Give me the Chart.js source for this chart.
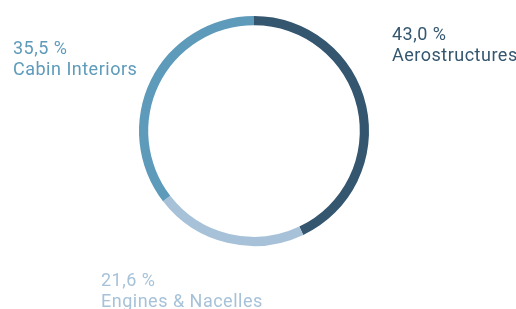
<!DOCTYPE html>
<html>
<head>
<meta charset="utf-8">
<script src="https://cdn.jsdelivr.net/npm/chart.js@4"></script>
<style>
  html, body { margin: 0; padding: 0; background: #fff; }
  #wrap { width: 516px; height: 309px; position: relative; }
</style>
</head>
<body>
<div id="wrap"><canvas id="chart"></canvas></div>
<script>
// Segment data
var labels = ['Aerostructures', 'Engines & Nacelles', 'Cabin Interiors'];
var values = [43.0, 21.6, 35.5];
var valueLabels = ['43,0 %', '21,6 %', '35,5 %'];
var colors = ['#34566f', '#a7c2d8', '#5e9aba'];

// Where each label block sits (left x, baseline of first line)
var labelPos = [
    { x: 392, y: 40 },
    { x: 101, y: 286 },
    { x: 13, y: 54 }
];

var labelPlugin = {
    id: 'sliceLabels',
    afterDraw: function(chart) {
        var ctx = chart.ctx;
        ctx.save();
        ctx.font = '18px Roboto, "Noto Sans", sans-serif';
        ctx.letterSpacing = '0.5px';
        ctx.textAlign = 'left';
        ctx.textBaseline = 'alphabetic';
        labels.forEach(function(name, i) {
            var p = labelPos[i];
            ctx.fillStyle = colors[i];
            ctx.fillText(valueLabels[i], p.x, p.y);
            ctx.fillText(name, p.x, p.y + 21);
        });
        ctx.restore();
    }
};

new Chart(document.getElementById('chart'), {
    type: 'doughnut',
    data: {
        labels: labels,
        datasets: [{
            data: values,
            backgroundColor: colors,
            borderWidth: 0
        }]
    },
    options: {
        responsive: true,
        maintainAspectRatio: false,
        animation: false,
        cutout: '92%',
        layout: { padding: { top: 16, bottom: 63, left: 0, right: 8 } },
        plugins: {
            legend: { display: false },
            tooltip: { enabled: false }
        }
    },
    plugins: [labelPlugin]
});
</script>
</body>
</html>
